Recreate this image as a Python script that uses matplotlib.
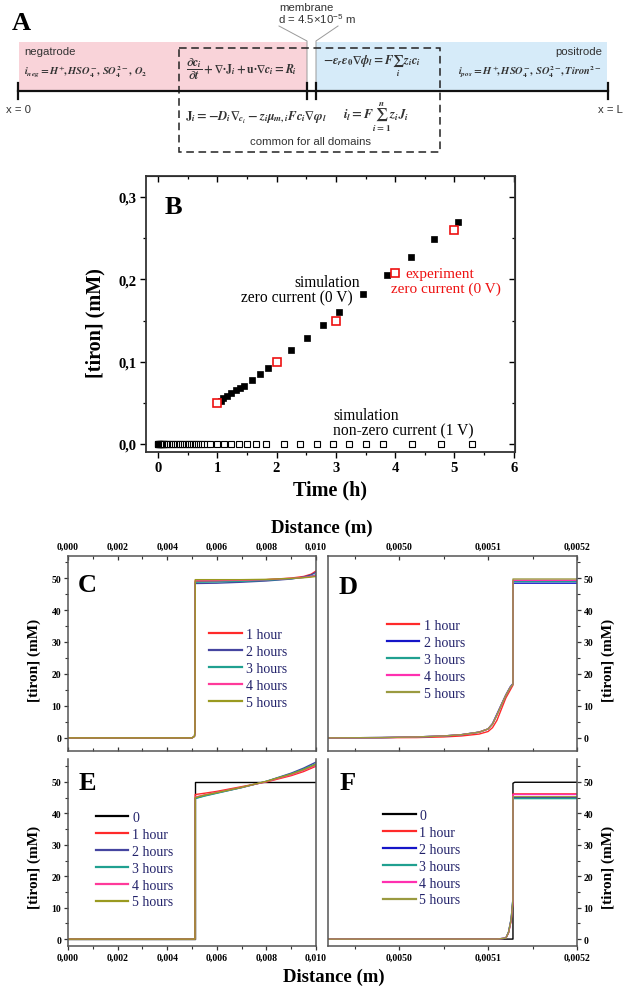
import matplotlib
matplotlib.use('Agg')
import matplotlib.pyplot as plt
from matplotlib.patches import Rectangle
from matplotlib.ticker import MultipleLocator, FuncFormatter

plt.rcParams['font.family'] = ['Liberation Serif', 'DejaVu Serif']
plt.rcParams['font.weight'] = 'bold'
plt.rcParams['mathtext.fontset'] = 'stix'
SANS = ['Liberation Sans', 'DejaVu Sans']

# ---------------- data: panel B ----------------
t_exp = [1.0, 2.0, 3.0, 4.0, 5.0]
c_exp = [0.050, 0.100, 0.150, 0.208, 0.260]
t_sim0 = [1.056, 1.10, 1.17, 1.24, 1.315, 1.382, 1.45, 1.58, 1.72, 1.85,
          2.25, 2.52, 2.79, 3.05, 3.46, 3.87, 4.26, 4.66, 5.06]
c_sim0 = [0.0526, 0.0555, 0.0587, 0.062, 0.0652, 0.0685, 0.0709, 0.0778,
          0.0846, 0.092, 0.114, 0.129, 0.1446, 0.160, 0.182, 0.205, 0.2267,
          0.249, 0.270]
t_sim1 = [0.0, 0.005, 0.01, 0.015, 0.02, 0.03, 0.04, 0.05, 0.06, 0.07, 0.08,
          0.09, 0.10, 0.11, 0.13, 0.15, 0.17, 0.20, 0.23, 0.26, 0.29, 0.32,
          0.35, 0.38, 0.41, 0.44, 0.47, 0.50, 0.53, 0.56, 0.59, 0.62, 0.65,
          0.68, 0.71, 0.74, 0.78, 0.83, 0.88, 1.00, 1.11, 1.24, 1.365, 1.51,
          1.66, 1.82, 2.13, 2.40, 2.68, 2.96, 3.23, 3.51, 3.79, 4.29, 4.78, 5.29]
c_sim1 = [0.0] * len(t_sim1)

# ---------------- data: panels C-F ----------------
labels5 = ['1 hour', '2 hours', '3 hours', '4 hours', '5 hours']

x_C = [0.0, 0.0050, 0.00510, 0.00512, 0.00513, 0.0060, 0.0070, 0.0080,
       0.0090, 0.0095, 0.0098, 0.0100]
y_C = [
    [0, 0, 0.5, 2.0, 49.0, 49.0, 49.2, 49.5, 50.0, 50.5, 51.2, 52.2],
    [0, 0, 0.5, 2.0, 48.3, 48.4, 48.7, 49.1, 49.7, 50.3, 51.0, 51.8],
    [0, 0, 0.5, 2.0, 48.7, 48.8, 49.0, 49.3, 49.8, 50.2, 50.6, 51.0],
    [0, 0, 0.5, 2.0, 49.2, 49.2, 49.3, 49.5, 49.9, 50.2, 50.5, 50.8],
    [0, 0, 0.5, 2.0, 49.5, 49.5, 49.5, 49.6, 49.9, 50.1, 50.3, 50.5],
]

x_D = [0.00492, 0.00498, 0.00502, 0.00505, 0.00507, 0.00509, 0.00510,
       0.005105, 0.00511, 0.005115, 0.00512, 0.005125, 0.005128, 0.005128,
       0.0052]
y_D = [
    [0, 0.05, 0.1, 0.3, 0.6, 1.2, 2.0, 3.2, 5.5, 9.0, 12.5, 15.0, 16.5, 49.0, 49.0],
    [0, 0.1, 0.3, 0.6, 1.0, 1.8, 2.8, 4.5, 7.5, 10.5, 13.5, 16.0, 17.0, 48.4, 48.4],
    [0, 0.1, 0.3, 0.6, 1.0, 1.8, 2.8, 4.3, 7.2, 10.3, 13.3, 15.8, 16.8, 48.9, 48.9],
    [0, 0.1, 0.3, 0.6, 1.0, 1.8, 2.8, 4.3, 7.2, 10.3, 13.3, 15.8, 16.8, 49.3, 49.3],
    [0, 0.1, 0.3, 0.6, 1.0, 1.8, 2.8, 4.3, 7.2, 10.3, 13.3, 15.8, 16.8, 49.7, 49.7],
]

x_E0 = [0.0, 0.00512, 0.00512, 0.0100]
y_E0 = [0.0, 0.0, 50.0, 50.0]
x_E = [0.0, 0.00512, 0.00513, 0.0055, 0.0060, 0.0070, 0.0080, 0.0090,
       0.0095, 0.0100]
y_E = [
    [0, 0, 46.0, 46.4, 47.0, 48.5, 50.0, 52.0, 53.3, 55.0],
    [0, 0, 44.8, 45.6, 46.5, 48.2, 50.2, 52.8, 54.4, 56.3],
    [0, 0, 44.7, 45.5, 46.4, 48.2, 50.2, 52.6, 54.1, 55.8],
    [0, 0, 45.2, 45.9, 46.7, 48.3, 50.1, 52.3, 53.7, 55.3],
    [0, 0, 45.0, 45.8, 46.6, 48.3, 50.2, 52.5, 53.9, 55.6],
]

x_F0 = [0.00492, 0.005128, 0.005128, 0.00513, 0.0052]
y_F0 = [0.0, 0.0, 49.6, 49.9, 49.9]
x_F = [0.00492, 0.00511, 0.00512, 0.005123, 0.005126, 0.005128, 0.005128, 0.0052]
y_F = [
    [0, 0, 0.3, 2.0, 6.0, 12.0, 46.2, 46.2],
    [0, 0, 0.3, 2.2, 6.5, 13.0, 45.0, 45.0],
    [0, 0, 0.3, 2.2, 6.5, 13.0, 44.7, 44.7],
    [0, 0, 0.3, 2.0, 6.0, 12.0, 46.0, 46.0],
    [0, 0, 0.3, 2.1, 6.2, 12.5, 45.3, 45.3],
]

colors_CE = ['#FF2A2A', '#4545A0', '#20A090', '#FF3A9A', '#9A9A20']
colors_DF = ['#FF2A2A', '#1515C8', '#20A090', '#FF30B0', '#9A9A40']

# ---------------- figure ----------------
W, H = 624, 987
fig = plt.figure(figsize=(W / 100, H / 100), dpi=100)


def rect(l, t, r, b):
    return [l / W, 1 - b / H, (r - l) / W, (b - t) / H]


# pixel overlay for panel A and free labels
axp = fig.add_axes([0, 0, 1, 1], zorder=5)
axp.set_xlim(0, W)
axp.set_ylim(H, 0)
axp.axis('off')

TXT = '#333333'
DOT = '\u00b7'
axp.add_patch(Rectangle((19, 43), 307 - 19, 92 - 43, fc='#F9D3D9', ec='none', zorder=0))
axp.add_patch(Rectangle((316, 43), 607 - 316, 92 - 43, fc='#D6EBF9', ec='none', zorder=0))
axp.add_patch(Rectangle((179, 49), 440 - 179, 153 - 49, fill=False, ec='#222222',
                        lw=1.1, ls=(0, (5, 3)), zorder=2))
axp.plot([18, 608], [92, 92], color='#111111', lw=1.6, zorder=3)
for xx in [18, 307, 316, 608]:
    axp.plot([xx, xx], [84, 100], color='#111111', lw=1.6, zorder=3)
axp.plot([279, 307, 307], [27, 42, 84], color='#9a9a9a', lw=0.7, zorder=1)
axp.plot([338, 316, 316], [27, 42, 84], color='#9a9a9a', lw=0.7, zorder=1)

axp.text(21, 23, 'A', fontsize=19, fontweight='bold', ha='center', va='center')
axp.text(306, 8, 'membrane', family=SANS, fontweight='normal', fontsize=8.2,
         color=TXT, ha='center', va='center')
axp.text(278, 19, r'd = 4.5×10$^{\mathregular{-5}}$ m', family=SANS, fontweight='normal',
         fontsize=8.2, color=TXT, ha='left', va='center')
axp.text(24, 52, 'negatrode', family=SANS, fontweight='normal', fontsize=8.2,
         color=TXT, ha='left', va='center')
axp.text(602, 52, 'positrode', family=SANS, fontweight='normal', fontsize=8.2,
         color=TXT, ha='right', va='center')
axp.text(19, 110, 'x = 0', family=SANS, fontweight='normal', fontsize=8.2,
         color=TXT, ha='center', va='center')
axp.text(610, 110, 'x = L', family=SANS, fontweight='normal', fontsize=8.2,
         color=TXT, ha='center', va='center')
axp.text(310, 142, 'common for all domains', family=SANS, fontweight='normal',
         fontsize=8.2, color=TXT, ha='center', va='center')

axp.text(24, 72, r'$i_{neg} = H^{+}\!,HSO_4^{-},\,SO_4^{2-},\,O_2$', fontsize=7.6,
         fontweight='normal', color=TXT, ha='left', va='center')
axp.text(186, 69, r'$\dfrac{\partial c_i}{\partial t} + \nabla' + DOT + r'\mathbf{J}_i + \mathbf{u}'
         + DOT + r'\nabla c_i = R_i$',
         fontsize=8.5, fontweight='normal', color=TXT, ha='left', va='center')
axp.text(323, 66, r'$-\varepsilon_r\varepsilon_0\nabla\phi_l = F\sum_i z_i c_i$',
         fontsize=8.8, fontweight='normal', color=TXT, ha='left', va='center')
axp.text(602, 72, r'$i_{pos} = H^{+}\!,HSO_4^{-},\,SO_4^{2-}\!,Tiron^{2-}$', fontsize=7.6,
         fontweight='normal', color=TXT, ha='right', va='center')
axp.text(185, 117, r'$\mathbf{J}_i = -D_i\nabla_{c_i} - z_i\mu_{m,i}Fc_i\nabla\varphi_l$',
         fontsize=9.2, fontweight='normal', color=TXT, ha='left', va='center')
axp.text(343, 117, r'$i_l = F\sum_{i=1}^{n} z_i J_i$', fontsize=9.5, fontweight='normal',
         color=TXT, ha='left', va='center')

# ---------------- panel B ----------------
axB = fig.add_axes(rect(146, 177, 515, 453))
axB.plot(t_sim1, c_sim1, ls='none', marker='s', ms=4.4, mfc='white', mec='black',
         mew=0.8, zorder=3)
axB.plot(t_sim0, c_sim0, ls='none', marker='s', ms=3.8, mfc='black', mec='black',
         mew=0.5, zorder=3)
axB.plot(t_exp, c_exp, ls='none', marker='s', ms=6.2, mfc='white', mec='#EE1111',
         mew=1.2, zorder=4)
axB.set_xlim(-0.2, 6.02)
axB.set_ylim(-0.0097, 0.3255)
axB.xaxis.set_major_locator(MultipleLocator(1))
axB.xaxis.set_minor_locator(MultipleLocator(0.5))
axB.yaxis.set_major_locator(MultipleLocator(0.1))
axB.yaxis.set_minor_locator(MultipleLocator(0.05))
axB.xaxis.set_major_formatter(FuncFormatter(lambda v, p: f'{v:.0f}'))
axB.yaxis.set_major_formatter(FuncFormatter(lambda v, p: f'{v:.1f}'.replace('.', ',')))
axB.tick_params(which='major', direction='out', length=4.5, width=1.0, labelsize=10.5, pad=2)
axB.tick_params(which='minor', direction='out', length=2.5, width=0.9)
for s in axB.spines.values():
    s.set_linewidth(1.3)
    s.set_color('#333333')
secx = axB.secondary_xaxis('top')
secx.xaxis.set_major_locator(MultipleLocator(1))
secx.xaxis.set_minor_locator(MultipleLocator(0.5))
secx.tick_params(which='both', direction='in', labeltop=False)
secx.tick_params(which='major', length=4.5, width=1.0)
secx.tick_params(which='minor', length=2.5, width=0.9)
secy = axB.secondary_yaxis('right')
secy.yaxis.set_major_locator(MultipleLocator(0.1))
secy.yaxis.set_minor_locator(MultipleLocator(0.05))
secy.tick_params(which='both', direction='in', labelright=False)
secy.tick_params(which='major', length=4.5, width=1.0)
secy.tick_params(which='minor', length=2.5, width=0.9)

axp.text(173, 208, 'B', fontsize=19, fontweight='bold', ha='center', va='center')
axp.text(95, 323, '[tiron] (mM)', fontsize=14.5, fontweight='bold', rotation=90,
         ha='center', va='center')
axp.text(330, 490, 'Time (h)', fontsize=14.5, fontweight='bold', ha='center', va='center')
axp.text(360, 283, 'simulation', fontsize=11.2, fontweight='normal', ha='right', va='center')
axp.text(353, 298, 'zero current (0 V)', fontsize=11.2, fontweight='normal', ha='right', va='center')
axp.text(405, 274.5, 'experiment', fontsize=11.0, fontweight='normal', ha='left', va='center',
         color='#EE1111')
axp.text(391, 289.5, 'zero current (0 V)', fontsize=11.0, fontweight='normal', ha='left',
         va='center', color='#EE1111')
axp.text(333, 416, 'simulation', fontsize=11.2, fontweight='normal', ha='left', va='center')
axp.text(333, 431, 'non-zero current (1 V)', fontsize=11.2, fontweight='normal', ha='left',
         va='center')

# ---------------- panels C-F ----------------
axC = fig.add_axes(rect(68, 557, 316, 752))
axD = fig.add_axes(rect(328, 557, 577, 752))
axE = fig.add_axes(rect(68, 760, 316, 947))
axF = fig.add_axes(rect(328, 760, 577, 947))

lw = 1.0
hC = []
for yv, c, lab in zip(y_C, colors_CE, labels5):
    hC += axC.plot(x_C, yv, color=c, lw=lw, label=lab)
hD = []
for yv, c, lab in zip(y_D, colors_DF, labels5):
    hD += axD.plot(x_D, yv, color=c, lw=lw, label=lab)
hE = axE.plot(x_E0, y_E0, color='black', lw=lw, label='0')
for yv, c, lab in zip(y_E, colors_CE, labels5):
    hE += axE.plot(x_E, yv, color=c, lw=lw, label=lab)
hF = axF.plot(x_F0, y_F0, color='black', lw=lw, label='0')
for yv, c, lab in zip(y_F, colors_DF, labels5):
    hF += axF.plot(x_F, yv, color=c, lw=lw, label=lab)

fmt3 = FuncFormatter(lambda v, p: f'{v:.3f}'.replace('.', ','))
fmt4 = FuncFormatter(lambda v, p: f'{v:.4f}'.replace('.', ','))
fmt0 = FuncFormatter(lambda v, p: f'{v:.0f}')

for ax in (axC, axD, axE, axF):
    ax.yaxis.set_major_locator(MultipleLocator(10))
    ax.yaxis.set_minor_locator(MultipleLocator(5))
    ax.yaxis.set_major_formatter(fmt0)
    for s in ax.spines.values():
        s.set_linewidth(1.1)
        s.set_color('#555555')
    ax.tick_params(which='major', length=3.2, width=0.9, labelsize=7, pad=1.5, colors='#333333',
                   labelcolor='black')
    ax.tick_params(which='minor', length=2.0, width=0.8, colors='#333333')

for ax in (axC, axE):
    ax.set_xlim(0, 0.0100)
    ax.xaxis.set_major_locator(MultipleLocator(0.002))
    ax.xaxis.set_minor_locator(MultipleLocator(0.001))
    ax.xaxis.set_major_formatter(fmt3)
for ax in (axD, axF):
    ax.set_xlim(0.00492, 0.0052)
    ax.xaxis.set_major_locator(MultipleLocator(0.0001))
    ax.xaxis.set_minor_locator(MultipleLocator(0.00005))
    ax.xaxis.set_major_formatter(fmt4)
    ax.yaxis.tick_right()
    ax.tick_params(axis='y', which='both', left=False, right=True)

for ax in (axC, axD):
    ax.set_ylim(-4.1, 56.9)
    ax.xaxis.set_ticks_position('both')
    ax.tick_params(axis='x', which='both', direction='in', labeltop=True, labelbottom=False, pad=4)
for ax in (axE, axF):
    ax.set_ylim(-2.2, 57.3)
    ax.spines['top'].set_visible(False)
    ax.tick_params(axis='x', which='both', direction='out', top=False, labelbottom=True, pad=2)

for ax, L, xl, yl in ((axC, 'C', 87, 586), (axD, 'D', 348, 588),
                      (axE, 'E', 87, 783), (axF, 'F', 348, 783)):
    axp.text(xl, yl, L, fontsize=19, fontweight='bold', ha='center', va='center')

axp.text(322, 528, 'Distance (m)', fontsize=13.5, fontweight='bold', ha='center', va='center')
axp.text(334, 977, 'Distance (m)', fontsize=13.5, fontweight='bold', ha='center', va='center')
for yy in (660, 867):
    axp.text(34, yy, '[tiron] (mM)', fontsize=11, fontweight='bold', rotation=90,
             ha='center', va='center')
    axp.text(608, yy, '[tiron] (mM)', fontsize=11, fontweight='bold', rotation=90,
             ha='center', va='center')


def place_legend(ax, handles, x, y, hl, htp):
    leg = ax.legend(handles=handles, loc='upper left', bbox_to_anchor=(x / W, 1 - y / H),
                    bbox_transform=fig.transFigure, frameon=False, borderpad=0,
                    borderaxespad=0, handlelength=hl, handletextpad=htp,
                    labelspacing=0.28, prop={'family': 'Liberation Serif', 'size': 10,
                                            'weight': 'normal'})
    for t in leg.get_texts():
        t.set_color('#22226A')
    for l in leg.get_lines():
        l.set_linewidth(1.6)
    return leg


place_legend(axC, hC, 209, 629, 2.4, 0.25)
place_legend(axD, hD, 387, 620, 2.3, 0.35)
place_legend(axE, hE, 96, 812, 2.3, 0.3)
place_legend(axF, hF, 383, 810, 2.4, 0.2)

fig.savefig('out.png', dpi=100)
